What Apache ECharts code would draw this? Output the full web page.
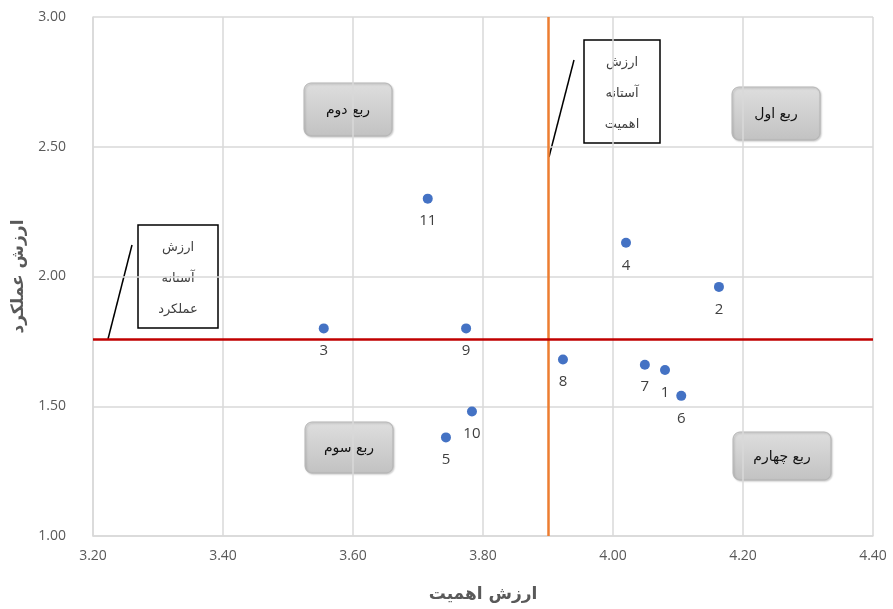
<!DOCTYPE html>
<html><head><meta charset="utf-8">
<script src="https://cdn.jsdelivr.net/npm/echarts@6/dist/echarts.min.js"></script>
<style>html,body{margin:0;padding:0;background:#fff}#c{width:893px;height:609px}</style>
</head><body><div id="c"></div>
<script>
const pointIds = ['1','2','3','4','5','6','7','8','9','10','11'];
const importance = [4.08, 4.163, 3.555, 4.02, 3.743, 4.105, 4.049, 3.923, 3.774, 3.783, 3.715];
const performance = [1.64, 1.96, 1.80, 2.13, 1.38, 1.54, 1.66, 1.68, 1.80, 1.48, 2.30];
const importanceThreshold = 3.90;
const performanceThreshold = 1.76;
const quadrantNames = ['ربع اول', 'ربع دوم', 'ربع سوم', 'ربع چهارم'];
const xTitle = 'ارزش اهمیت';
const yTitle = 'ارزش عملکرد';
const calloutX = ['ارزش', 'آستانه', 'اهمیت'];
const calloutY = ['ارزش', 'آستانه', 'عملکرد'];

const fa = '"DejaVu Sans", sans-serif';
const num = '"Open Sans", "Liberation Sans", sans-serif';

const chart = echarts.init(document.getElementById('c'));
const data = importance.map((v, i) => [v, performance[i], pointIds[i]]);

function quadBox(x, y, w, h, text) {
  return {
    type: 'group', x: x, y: y, children: [
      { type: 'rect', shape: { x: 0, y: 0, width: w, height: h, r: 7 },
        style: { fill: new echarts.graphic.LinearGradient(0, 0, 0, 1, [
          { offset: 0, color: '#dedede' }, { offset: 1, color: '#c2c2c2' }]),
          stroke: '#b5b5b5', lineWidth: 1, shadowBlur: 2, shadowOffsetX: 1, shadowOffsetY: 1, shadowColor: 'rgba(0,0,0,0.2)' } },
      { type: 'text', x: w / 2, y: h / 2 + 1, style: { text: text, align: 'center', verticalAlign: 'middle',
        fontSize: 14, fontFamily: fa, fill: '#111' } }
    ]
  };
}
function callout(x, y, w, h, lines, lx1, ly1, lx2, ly2) {
  const ch = [
    { type: 'rect', shape: { x: x, y: y, width: w, height: h }, style: { fill: '#fff', stroke: '#000', lineWidth: 1.5 } },
    { type: 'line', shape: { x1: lx1, y1: ly1, x2: lx2, y2: ly2 }, style: { stroke: '#000', lineWidth: 1.5 } }
  ];
  lines.forEach((t, i) => ch.push({ type: 'text', x: x + w / 2, y: y + 23 + i * 31,
    style: { text: t, align: 'center', verticalAlign: 'middle', fontSize: 13, fontFamily: fa, fill: '#404040' } }));
  return { type: 'group', children: ch };
}

chart.setOption({
  animation: false,
  grid: { left: 93, right: 20, top: 17, bottom: 73 },
  xAxis: {
    type: 'value', min: 3.2, max: 4.4, interval: 0.2,
    name: xTitle, nameLocation: 'middle', nameGap: 50,
    nameTextStyle: { fontWeight: 'bold', fontSize: 17, fontFamily: fa, color: '#595959' },
    axisLine: { show: true, lineStyle: { color: '#d9d9d9', width: 1.5 } },
    axisTick: { show: false },
    splitLine: { show: true, lineStyle: { color: '#d9d9d9', width: 1.5 } },
    axisLabel: { formatter: v => v.toFixed(2), color: '#595959', fontFamily: num, fontSize: 14, margin: 13 }
  },
  yAxis: {
    type: 'value', min: 1.0, max: 3.0, interval: 0.5,
    name: yTitle, nameLocation: 'middle', nameGap: 66, nameRotate: 90,
    nameTextStyle: { fontWeight: 'bold', fontSize: 17, fontFamily: fa, color: '#595959' },
    axisLine: { show: true, lineStyle: { color: '#d9d9d9', width: 1.5 } },
    axisTick: { show: false },
    splitLine: { show: true, lineStyle: { color: '#d9d9d9', width: 1.5 } },
    axisLabel: { formatter: v => v.toFixed(2), color: '#595959', fontFamily: num, fontSize: 14, margin: 27 }
  },
  series: [{
    type: 'scatter', data: data, symbolSize: 10,
    itemStyle: { color: '#4472c4', opacity: 1 },
    label: { show: true, position: 'bottom', distance: 10, formatter: p => p.data[2],
      color: '#404040', fontFamily: num, fontSize: 15 },
    markLine: {
      silent: true, symbol: 'none', label: { show: false },
      data: [
        { xAxis: importanceThreshold, lineStyle: { color: '#ed7d31', width: 2.5, type: 'solid' } },
        { yAxis: performanceThreshold, lineStyle: { color: '#c00000', width: 2.5, type: 'solid' } }
      ]
    },
    z: 5
  }],
  graphic: [
    quadBox(732, 87, 88, 53, quadrantNames[0]),
    quadBox(304, 83, 88, 53, quadrantNames[1]),
    quadBox(305, 422, 88, 51, quadrantNames[2]),
    quadBox(733, 432, 98, 48, quadrantNames[3]),
    callout(584, 40, 76, 103, calloutX, 549, 157, 574, 60),
    callout(138, 225, 80, 103, calloutY, 108, 339, 132, 245)
  ]
});
</script></body></html>
